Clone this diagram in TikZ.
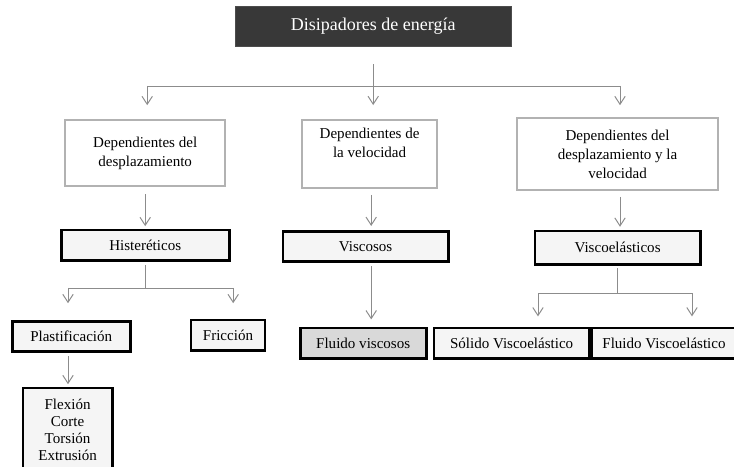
\documentclass[tikz,border=0pt]{standalone}
\usepackage{fontspec}
\setmainfont{Liberation Serif}
\usetikzlibrary{arrows.meta}
\usetikzlibrary{shadows}
\usetikzlibrary{positioning}
\tikzset{>={Straight Barb[length=2mm,width=2.6mm]}, font=\fontsize{10.7}{13.5}\selectfont}
\tikzstyle{title} = [draw=black!70, fill=black!78, text=white, minimum width=6.9cm, minimum height=1cm, font=\fontsize{12.8}{14}\selectfont, drop shadow={opacity=0.3, shadow xshift=0.6pt, shadow yshift=-1pt}]
\tikzstyle{group} = [draw=black!30, line width=1.1pt, fill=white, align=center]
\tikzstyle{kind} = [draw=black, line width=2pt, fill=black!4, minimum height=0.76cm, align=center, drop shadow={opacity=0.2, shadow xshift=0.5pt, shadow yshift=-0.5pt}]
\tikzstyle{line} = [draw=black!45, line width=0.7pt]

\begin{document}
\begin{tikzpicture}
		\useasboundingbox (0,0) rectangle (18.35,-11.675);
		\node [title] (disip) at (9.33,-0.65) {Disipadores de energía};

		\node [group, minimum width=4cm, minimum height=1.65cm] (despl) at (3.63,-3.83) {Dependientes del\\desplazamiento};
		\node [group, minimum width=3.38cm, minimum height=1.7cm] (veloc) at (9.24,-3.85) {Dependientes de\\la velocidad\\[2pt]};
		\node [group, minimum width=5.03cm, minimum height=1.8cm] (despvel) at (15.44,-3.85) {Dependientes del\\desplazamiento y la\\velocidad};

		\node [kind, minimum width=4.2cm] (hist) at (3.63,-6.13) {Histeréticos};
		\node [kind, minimum width=4.13cm] (visc) at (9.14,-6.16) {Viscosos};
		\node [kind, minimum width=4.13cm, minimum height=0.83cm] (viscel) at (15.44,-6.19) {Viscoelásticos};

		\node [kind, minimum width=2.95cm] (plast) at (1.78,-8.41) {Plastificación};
		\node [kind, minimum width=1.85cm] (fric) at (5.7,-8.38) {Fricción};
		\node [kind, minimum width=3.15cm, fill=black!15] (fluvisc) at (9.08,-8.58) {Fluido viscosos};
		\node [kind, minimum width=3.88cm] (solvel) at (12.79,-8.58) {Sólido Viscoelástico};
		\node [kind, minimum width=3.6cm] (fluvel) at (16.6,-8.58) {Fluido Viscoelástico};
		\node [kind, minimum width=2.23cm, minimum height=2.1cm, font=\fontsize{10.7}{12.2}\selectfont] (modos) at (1.69,-10.75) {Flexión\\Corte\\Torsión\\Extrusión};

		% ramas principales
		\coordinate (busl) at (3.68,-2.15);
		\coordinate (busr) at (15.5,-2.15);
		\draw [line] (busl) -- (busr);
		\draw [line,->] ([yshift=-0.45cm]disip.south) -- +(0,-1.02);
		\draw [line,->] (busl) -- +(0,-0.48);
		\draw [line,->] (busr) -- +(0,-0.48);

		\draw [line,->] ([yshift=-0.18cm]despl.south) -- +(0,-0.8);
		\draw [line,->] ([xshift=0.04cm,yshift=-0.15cm]veloc.south) -- +(0,-0.78);
		\draw [line,->] ([xshift=0.06cm,yshift=-0.15cm]despvel.south) -- +(0,-0.75);

		% histereticos
		\coordinate (histl) at (1.7,-7.2);
		\coordinate (histr) at (5.83,-7.2);
		\draw [line] ([yshift=-0.08cm]hist.south) -- (hist.south |- histl);
		\draw [line] (histl) -- (histr);
		\draw [line,->] (histl) -- +(0,-0.38);
		\draw [line,->] (histr) -- +(0,-0.38);
		\draw [line,->] ([xshift=-0.08cm,yshift=-0.08cm]plast.south) -- +(0,-0.7);

		% viscosos
		\draw [line,->] ([xshift=0.14cm,yshift=-0.08cm]visc.south) -- +(0,-1.33);

		% viscoelasticos
		\coordinate (vell) at (13.45,-7.33);
		\coordinate (velr) at (17.3,-7.33);
		\draw [line] ([yshift=-0.06cm]viscel.south) -- (viscel.south |- vell);
		\draw [line] (vell) -- (velr);
		\draw [line,->] (vell) -- +(0,-0.58);
		\draw [line,->] (velr) -- +(0,-0.58);
	\end{tikzpicture}
\end{document}
